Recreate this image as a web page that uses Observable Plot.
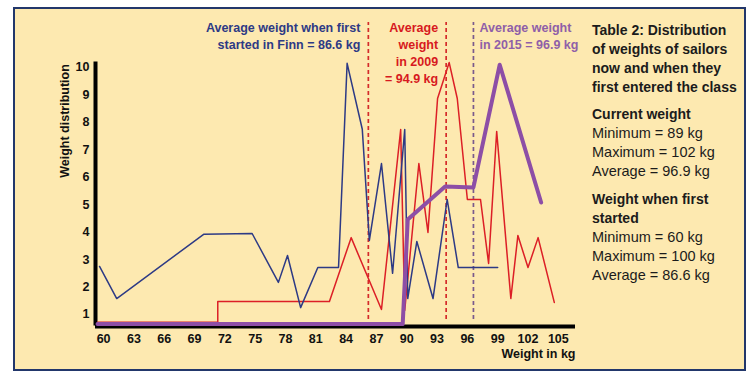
<!DOCTYPE html>
<html><head><meta charset="utf-8">
<script src="https://cdn.jsdelivr.net/npm/d3@7"></script>
<script src="https://cdn.jsdelivr.net/npm/@observablehq/plot@0.6"></script>
<style>
html,body{margin:0;padding:0;background:#fff;}
#wrap{position:relative;width:753px;height:378px;font-family:"Liberation Sans",Arial,Helvetica,sans-serif;overflow:hidden;}
#box{position:absolute;left:13px;top:7px;width:733px;height:364px;box-sizing:border-box;background:#fde9b0;border:2.5px solid #22376b;}
#chart{position:absolute;left:0;top:0;}
#panel{position:absolute;left:592px;top:21px;font-size:14.5px;line-height:19px;color:#1b1b1b;white-space:nowrap;}
#panel .b{font-weight:bold;font-size:14px;}
#panel .g1{margin-top:8px;}
#panel .g2{margin-top:9px;}
</style></head>
<body>
<div id="wrap">
  <div id="box"></div>
  <div id="chart"></div>
  <div id="panel">
    <div class="b">Table 2: Distribution<br>of weights of sailors<br>now and when they<br>first entered the class</div>
    <div class="g1"><span class="b">Current weight</span><br>Minimum = 89 kg<br>Maximum = 102 kg<br>Average = 96.9 kg</div>
    <div class="g2"><span class="b">Weight when first<br>started</span><br>Minimum = 60 kg<br>Maximum = 100 kg<br>Average = 86.6 kg</div>
  </div>
</div>
<script>
// Weight when first started (navy)
const blueKg  = [59.6, 61.3, 69.9, 74.7, 77.3, 78.2, 79.5, 81.2, 83.25, 84.1, 85.6, 86.3, 87.5, 88.6, 89.8, 90.1, 91.0, 92.6, 94.0, 95.1, 99.0];
const blueVal = [2.75, 1.58, 3.92, 3.95, 2.17, 3.15, 1.25, 2.71, 2.71, 10.15, 7.75, 3.7, 6.5, 2.5, 7.74, 1.58, 3.66, 1.58, 5.19, 2.71, 2.71];
// 2009 weights (red)
const redKg  = [59.4, 71.3, 71.3, 82.35, 84.5, 87.5, 89.4, 89.8, 91.2, 92.1, 93.05, 94.2, 95.0, 96.0, 97.3, 98.1, 98.9, 100.3, 101.0, 102.0, 103.0, 104.6];
const redVal = [0.72, 0.72, 1.47, 1.47, 3.8, 1.18, 7.74, 1.15, 6.5, 3.99, 8.87, 10.18, 8.87, 5.19, 5.19, 2.86, 7.67, 1.58, 3.88, 2.71, 3.8, 1.44];
// 2015 weights (purple)
const purpleKg  = [59.4, 89.6, 90.1, 93.8, 96.6, 99.2, 103.3];
const purpleVal = [0.65, 0.65, 4.46, 5.66, 5.63, 10.1, 5.08];
// average marker lines (as drawn)
const avgKg = [86.2, 93.9, 96.6];
const avgSpan = [0.82, 11.64];
// ticks
const xTicks = [60, 63, 66, 69, 72, 75, 78, 81, 84, 87, 90, 93, 96, 99, 102, 105];
const yTicks = [1, 2, 3, 4, 5, 6, 7, 8, 9, 10];
const xDomain = [59.2, 106.7];
const yDomain = [0.58, 10.2];
// texts
const noteFirst = "Average weight when first\nstarted in Finn = 86.6 kg";
const note2009 = "Average\nweight\nin 2009\n= 94.9 kg";
const note2015 = "Average weight\nin 2015 = 96.9 kg";
const yTitle = "Weight distribution";
const xTitle = "Weight in kg";

const rows = (ks, vs) => ks.map((k, i) => ({kg: k, v: vs[i]}));
const FONT = '"Liberation Sans", Arial, Helvetica, sans-serif';

const chart = Plot.plot({
  width: 753, height: 378,
  marginLeft: 95, marginRight: 178, marginTop: 61.5, marginBottom: 52.5,
  style: {background: "transparent", fontFamily: FONT, overflow: "visible"},
  x: {domain: xDomain},
  y: {domain: yDomain},
  marks: [
    Plot.axisX({ticks: xTicks, tickSize: 0, tickPadding: 8, fontSize: 12.5, fontWeight: "bold", fill: "#111", label: null}),
    Plot.axisY({ticks: yTicks, tickSize: 0, tickPadding: 6, fontSize: 12.5, fontWeight: "bold", fill: "#111", label: null}),
    Plot.ruleX([avgKg[0], avgKg[1]], {y1: avgSpan[0], y2: avgSpan[1], stroke: "#d42b2b", strokeWidth: 1.7, strokeDasharray: "4,3"}),
    Plot.ruleX([avgKg[2]], {y1: avgSpan[0], y2: avgSpan[1], stroke: "#7a5a8c", strokeWidth: 1.7, strokeDasharray: "4,3"}),
    Plot.ruleY([yDomain[0]], {x1: xDomain[0], x2: xDomain[1], stroke: "#000", strokeWidth: 4, dy: 0.5}),
    Plot.ruleX([xDomain[0]], {y1: yDomain[0], y2: yDomain[1], stroke: "#000", strokeWidth: 4}),
    Plot.line(rows(redKg, redVal), {x: "kg", y: "v", stroke: "#dc1f26", strokeWidth: 1.5}),
    Plot.line(rows(blueKg, blueVal), {x: "kg", y: "v", stroke: "#2d3a85", strokeWidth: 1.5}),
    Plot.line(rows(purpleKg, purpleVal), {x: "kg", y: "v", stroke: "#8d4ea6", strokeWidth: 4}),
    Plot.text([{kg: avgKg[0], t: noteFirst}], {x: "kg", text: "t", frameAnchor: "top", dx: -8, dy: -42.5, textAnchor: "end", lineAnchor: "top", lineHeight: 1.36, fill: "#2d3a85", fontWeight: "bold", fontSize: 12.5}),
    Plot.text([{kg: avgKg[1], t: note2009}], {x: "kg", text: "t", frameAnchor: "top", dx: -8, dy: -42.5, textAnchor: "end", lineAnchor: "top", lineHeight: 1.36, fill: "#d71920", fontWeight: "bold", fontSize: 12.5}),
    Plot.text([{kg: avgKg[2], t: note2015}], {x: "kg", text: "t", frameAnchor: "top", dx: 6, dy: -42.5, textAnchor: "start", lineAnchor: "top", lineHeight: 1.36, fill: "#8f5fa8", fontWeight: "bold", fontSize: 12.5}),
    Plot.text([yTitle], {frameAnchor: "top-left", dx: -35, dy: 59, rotate: -90, textAnchor: "middle", fill: "#111", fontWeight: "bold", fontSize: 12.5}),
    Plot.text([xTitle], {frameAnchor: "bottom-right", dy: 31.5, textAnchor: "end", fill: "#111", fontWeight: "bold", fontSize: 12.5})
  ]
});
document.getElementById("chart").appendChild(chart);
</script>
</body></html>
